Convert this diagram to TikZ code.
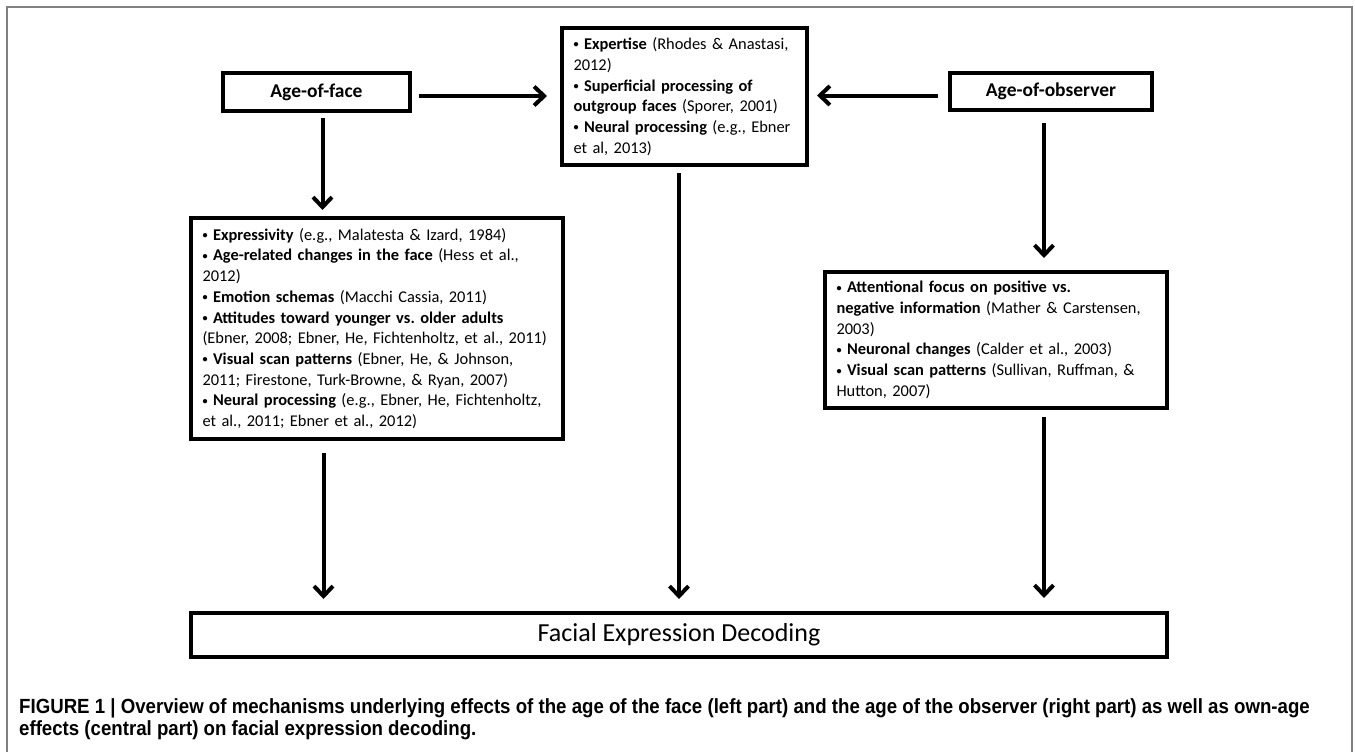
\documentclass[tikz,border=0pt]{standalone}
\usepackage{fontspec}
\setmainfont{Carlito}
\newfontfamily\capfont[FakeStretch=0.91]{Liberation Sans}
\usetikzlibrary{arrows.meta}
\newcommand\bu{\raisebox{0.1em}{\scalebox{0.62}{\textbf{•}}}}
\begin{document}
\frenchspacing
\begin{tikzpicture}[x=1pt,y=-1pt,
  box/.style={draw=black, line width=3.3pt, inner sep=0pt, outer sep=0pt},
  txtbox/.style={box, align=left, inner xsep=11.5pt, font=\frenchspacing\fontsize{16.4}{20.7}\selectfont},
  titlebox/.style={box, font=\bfseries\fontsize{19.5}{23}\selectfont},
  arr/.style={line width=4pt, -{Straight Barb[length=10pt,width=19pt]}},
  capline/.style={anchor=base west, inner sep=0pt, font=\capfont\bfseries\fontsize{20.5}{22}\selectfont}
]
\useasboundingbox (0,0) rectangle (1355,752);
\draw[black!50, line width=1.6pt] (7,752) -- (7,7) -- (1352,7) -- (1352,752);

\node[titlebox, minimum width=187pt, minimum height=38pt] (aof) at (316.5,92) {Age-of-face};
\node[titlebox, minimum width=202pt, minimum height=37pt] (aoo) at (1051,91.5) {Age-of-observer};

\node[txtbox, text width=222pt, minimum height=137pt] (cen) at (684.5,96.5) {%
\bu{} \textbf{Expertise} (Rhodes \& Anastasi,\\
2012)\\
\bu{} \textbf{Superficial processing of}\\
\textbf{outgroup faces} (Sporer, 2001)\\
\bu{} \textbf{Neural processing} (e.g., Ebner\\
et al, 2013)};

\node[txtbox, text width=349pt, minimum height=221pt] (lbox) at (377,328.5) {%
\bu{} \textbf{Expressivity} (e.g., Malatesta \& Izard, 1984)\\
\bu{} \textbf{Age-related changes in the face} (Hess et al.,\\
2012)\\
\bu{} \textbf{Emotion schemas} (Macchi Cassia, 2011)\\
\bu{} \textbf{Attitudes toward younger vs. older adults}\\
(Ebner, 2008; Ebner, He, Fichtenholtz, et al., 2011)\\
\bu{} \textbf{Visual scan patterns} (Ebner, He, \& Johnson,\\
2011; Firestone, Turk-Browne, \& Ryan, 2007)\\
\bu{} \textbf{Neural processing} (e.g., Ebner, He, Fichtenholtz,\\
et al., 2011; Ebner et al., 2012)};

\node[txtbox, text width=319pt, minimum height=136pt] (rbox) at (996,340) {%
\bu{} \textbf{Attentional focus on positive vs.}\\
\textbf{negative information} (Mather \& Carstensen,\\
2003)\\
\bu{} \textbf{Neuronal changes} (Calder et al., 2003)\\
\bu{} \textbf{Visual scan patterns} (Sullivan, Ruffman, \&\\
Hutton, 2007)};

\node[box, minimum width=976pt, minimum height=44pt, font=\fontsize{26}{30}\selectfont] (dec) at (679,635) {Facial Expression Decoding};

\draw[arr, shorten <=9pt, shorten >=15pt] ([yshift=-4pt]aof.east) -- ([yshift=-4pt]aof.east -| cen.west);
\draw[arr, shorten <=12pt, shorten >=10pt] ([yshift=-4pt]aoo.west) -- ([yshift=-4pt]aoo.west -| cen.east);
\draw[arr, shorten <=7pt, shorten >=8pt] ([xshift=6pt]aof.south) -- ([xshift=6pt]aof.south |- lbox.north);
\draw[arr, shorten <=14pt, shorten >=14pt] ([xshift=7pt]aof.south |- lbox.south) -- ([xshift=7pt]aof.south |- dec.north);
\draw[arr, shorten <=8pt, shorten >=14pt] ([xshift=-5.5pt]cen.south) -- ([xshift=-5.5pt]cen.south |- dec.north);
\draw[arr, shorten <=13pt, shorten >=14pt] ([xshift=-7pt]aoo.south) -- ([xshift=-7pt]aoo.south |- rbox.north);
\draw[arr, shorten <=9pt, shorten >=15pt] ([xshift=-7pt]aoo.south |- rbox.south) -- ([xshift=-7pt]aoo.south |- dec.north);

\node[capline] (cap1) at (19,713) {FIGURE 1 | Overview of mechanisms underlying effects of the age of the face (left part) and the age of the observer (right part) as well as own-age};
\node[capline] (cap2) at (19,735) {effects (central part) on facial expression decoding.};
\end{tikzpicture}
\end{document}
